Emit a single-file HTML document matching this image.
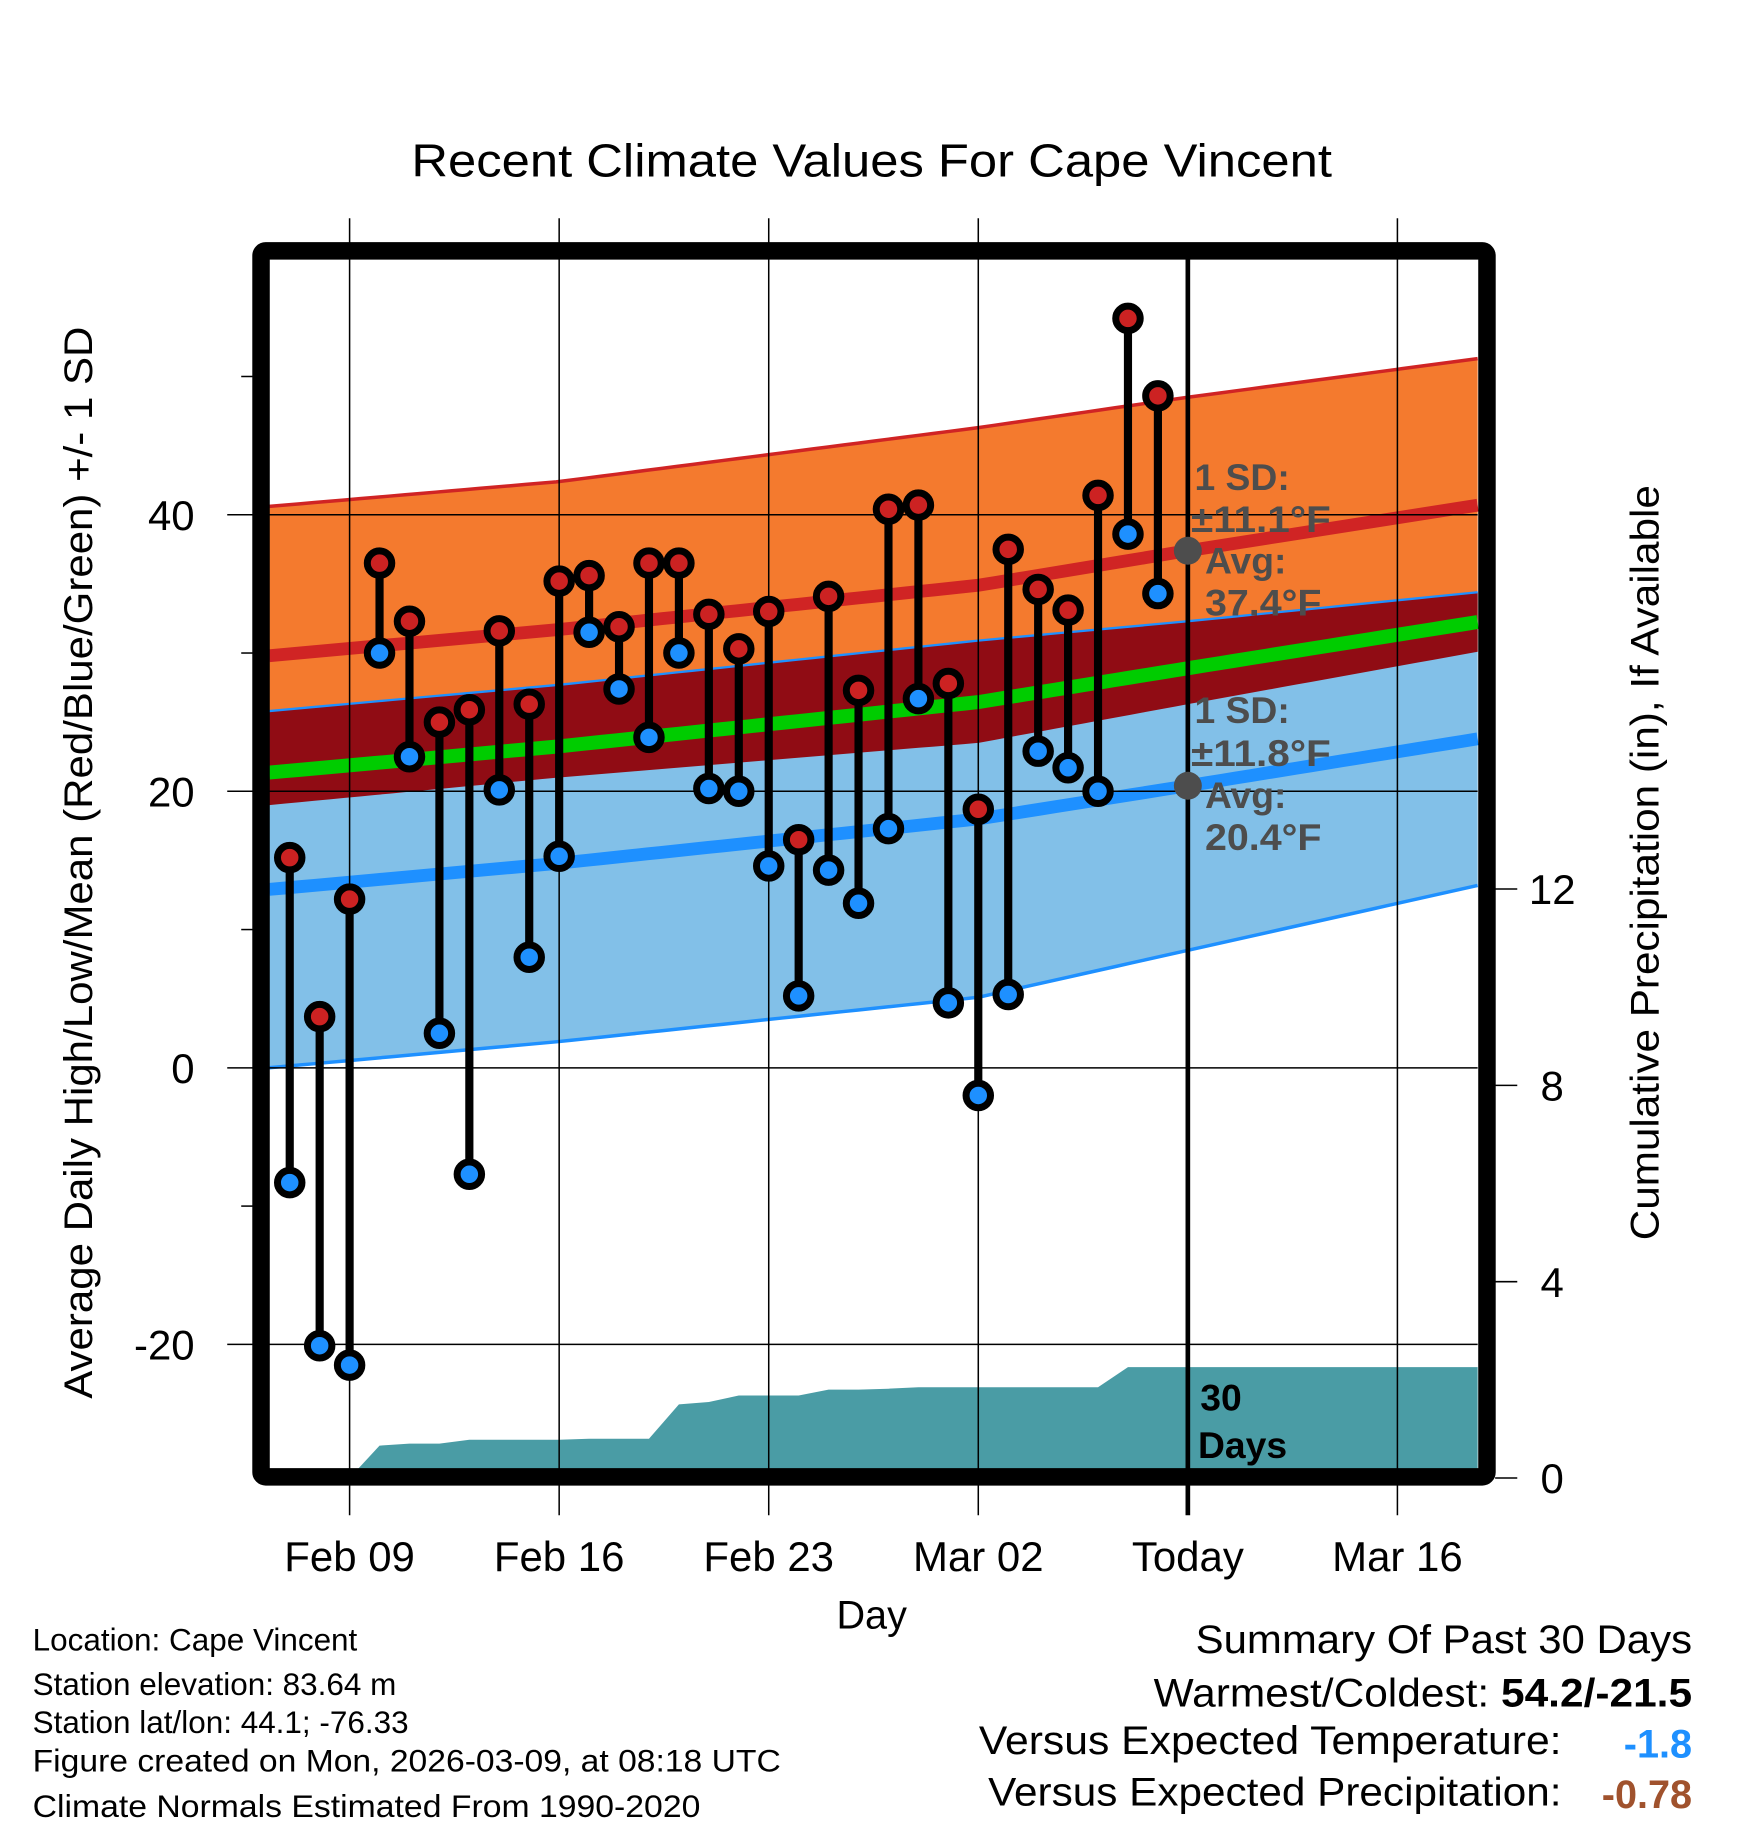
<!DOCTYPE html>
<html><head><meta charset="utf-8"><style>html,body{margin:0;padding:0;background:#fff}svg{display:block}text{font-family:"Liberation Sans",sans-serif}</style></head>
<body>
<svg id="chart" width="1748" height="1828" viewBox="0 0 1500 1568" xmlns="http://www.w3.org/2000/svg">
<g id="fills"></g><g id="grid"></g><g id="marks"></g><g id="frame"></g><g id="labels"></g>
</svg>
<script>
// ---- data ----
const days = [-2,-1,0,1,2,3,4,5,6,7,8,9,10,11,12,13,14,15,16,17,18,19,20,21,22,23,24,25,26,27];
const highs = [15.2,3.7,12.2,36.5,32.3,25,25.9,31.6,26.3,35.2,35.6,31.9,36.5,36.5,32.8,30.3,33,16.5,34.1,27.3,40.4,40.7,27.8,18.7,37.5,34.6,33.1,41.4,54.2,48.6];
const lows = [-8.3,-20.1,-21.5,30,22.5,2.5,-7.7,20.1,8,15.3,31.5,27.4,23.9,30,20.2,20,14.6,5.2,14.3,11.9,17.3,26.7,4.7,-2,5.3,22.9,21.7,20,38.6,34.3];
const precip = [0,0.66,0.7,0.7,0.78,0.78,0.78,0.78,0.8,0.8,0.8,1.5,1.55,1.68,1.68,1.68,1.8,1.8,1.82,1.85,1.85,1.85,1.85,1.85,1.85,1.85,2.26,2.26];
const normDays = [-2.7,7,21,28,37.7];
const normHigh = [29.8,31.7,34.9,37.4,40.7];
const sdHigh = [10.8,10.7,11.4,11.1,10.6];
const normLow = [12.9,14.8,18.0,20.4,23.8];
const sdLow = [12.9,12.9,12.9,11.9,10.6];
const tickDays = [0,7,14,21,28,35];
const tickLabels = ["Feb 09","Feb 16","Feb 23","Mar 02","Today","Mar 16"];
const yTicks = [40,20,0,-20];
const yMinor = [50,30,10,-10];
const pTicks = [0,4,8,12];

// ---- axes ----
const X = d => 300 + d*25.69;
const Y = v => 916 - v*11.865;
const P = p => 1268 - p*42.12;
const L=231,R=1268,T=222,B=1260;
const NS="http://www.w3.org/2000/svg";
function mk(parent,tag,attrs){const e=document.createElementNS(NS,tag);for(const k in attrs)e.setAttribute(k,attrs[k]);document.getElementById(parent).appendChild(e);return e;}
function interp(arr,d){for(let i=0;i<normDays.length-1;i++){if(d<=normDays[i+1]||i===normDays.length-2){const t=(d-normDays[i])/(normDays[i+1]-normDays[i]);return arr[i]+t*(arr[i+1]-arr[i]);}}}
const d0=(L-300)/25.69, d1=(R-300)/25.69;
const samp=[];for(let i=0;i<=80;i++)samp.push(d0+(d1-d0)*i/80);
const f=(fn)=>samp.map(d=>[X(d),Y(fn(d))]);
const hp=d=>interp(normHigh,d)+interp(sdHigh,d), hm=d=>interp(normHigh,d)-interp(sdHigh,d);
const lp=d=>interp(normLow,d)+interp(sdLow,d), lm=d=>interp(normLow,d)-interp(sdLow,d);
const pts=a=>a.map(p=>p.join(',')).join(' ');
let e;
e=mk('fills','polygon',{points:pts(f(hp).concat(f(hm).reverse())),fill:'#f47a2e'});

e=mk('fills','polygon',{points:pts(f(lp).concat(f(lm).reverse())),fill:'#82c0e8'});

e=mk('fills','polygon',{points:pts(f(lp).concat(f(hm).reverse())),fill:'#900c14'});

e=mk('fills','polyline',{points:pts(f(hp)),fill:'none',stroke:'#d02424','stroke-width':3});

e=mk('fills','polyline',{points:pts(f(lp)),fill:'none',stroke:'#1e90ff','stroke-width':2});

e=mk('fills','polyline',{points:pts(f(lm)),fill:'none',stroke:'#1e90ff','stroke-width':3});

e=mk('fills','polyline',{points:pts(f(d=>interp(normHigh,d))),fill:'none',stroke:'#d02424','stroke-width':11});

e=mk('fills','polyline',{points:pts(f(d=>interp(normLow,d))),fill:'none',stroke:'#1e90ff','stroke-width':11});

e=mk('fills','polyline',{points:pts(f(d=>(interp(normHigh,d)+interp(normLow,d))/2)),fill:'none',stroke:'#00cc00','stroke-width':12});

// precip area
let pp=[[X(0.3),P(0)]];
precip.forEach((v,i)=>{pp.push([X(i),P(v)]);});
pp.push([R,P(precip[precip.length-1])]);pp.push([R,B]);pp.push([X(0.3),B]);
e=mk('fills','polygon',{points:pts(pp),fill:'#4a9ca5'});

// grid
tickDays.forEach((d,i)=>{if(i===4)return;
 e=mk('grid','line',{x1:X(d),x2:X(d),y1:187,y2:1300,stroke:'#000','stroke-width':1.3});
 });
yTicks.forEach(v=>{e=mk('grid','line',{x1:195,x2:R,y1:Y(v),y2:Y(v),stroke:'#000','stroke-width':1.3});
 
 e=mk('labels','text',{x:167,y:Y(v)+13,'text-anchor':'end','font-size':36});e.textContent=v;
 });
yMinor.forEach(v=>{e=mk('grid','line',{x1:207,x2:220,y1:Y(v),y2:Y(v),stroke:'#000','stroke-width':1.3});
 });
pTicks.forEach(p=>{e=mk('grid','line',{x1:1283,x2:1302,y1:P(p),y2:P(p),stroke:'#000','stroke-width':1.3});
 
 e=mk('labels','text',{x:1332,y:P(p)+13,'text-anchor':'middle','font-size':36});e.textContent=p;
 });
e=mk('grid','line',{x1:X(28),x2:X(28),y1:T,y2:1300,stroke:'#000','stroke-width':4});

tickDays.forEach((d,i)=>{e=mk('labels','text',{x:X(d),y:1348,'text-anchor':'middle','font-size':36});e.textContent=tickLabels[i];
 });
// marks
days.forEach((d,i)=>{
 e=mk('marks','line',{x1:X(d),x2:X(d),y1:Y(highs[i]),y2:Y(lows[i]),stroke:'#000','stroke-width':7});
 
 e=mk('marks','circle',{cx:X(d),cy:Y(highs[i]),r:10.5,fill:'#cc2222',stroke:'#000','stroke-width':6});
 
 e=mk('marks','circle',{cx:X(d),cy:Y(lows[i]),r:10.5,fill:'#1e90ff',stroke:'#000','stroke-width':6});
 
});
e=mk('marks','circle',{cx:X(28),cy:Y(37.4),r:12,fill:'#4d4d4d'});

e=mk('marks','circle',{cx:X(28),cy:Y(20.4),r:12,fill:'#4d4d4d'});

// frame
e=mk('frame','rect',{x:224,y:215,width:1052,height:1052,fill:'none',stroke:'#000','stroke-width':15,rx:4});

</script>
<svg style="position:absolute;left:0;top:0" width="1748" height="1828" viewBox="0 0 1500 1568" xmlns="http://www.w3.org/2000/svg">
<g font-family="Liberation Sans, sans-serif">
<text x="748" y="151" text-anchor="middle" font-size="40" textLength="790" lengthAdjust="spacingAndGlyphs">Recent Climate Values For Cape Vincent</text>
<text transform="translate(79,740) rotate(-90)" text-anchor="middle" font-size="34" textLength="920" lengthAdjust="spacingAndGlyphs">Average Daily High/Low/Mean (Red/Blue/Green) +/- 1 SD</text>
<text transform="translate(1423,740) rotate(-90)" text-anchor="middle" font-size="34" textLength="648" lengthAdjust="spacingAndGlyphs">Cumulative Precipitation (in), If Available</text>
<text x="748" y="1397" text-anchor="middle" font-size="34">Day</text>
<g fill="#4d4d4d" font-weight="bold" font-size="32">
<text x="1025" y="420">1 SD:</text><text x="1022" y="456" textLength="120" lengthAdjust="spacingAndGlyphs">±11.1°F</text><text x="1034" y="492">Avg:</text><text x="1034" y="528" textLength="100" lengthAdjust="spacingAndGlyphs">37.4°F</text></g>
<g fill="#4d4d4d" font-weight="bold" font-size="32">
<text x="1025" y="620">1 SD:</text><text x="1022" y="657" textLength="120" lengthAdjust="spacingAndGlyphs">±11.8°F</text><text x="1034" y="693">Avg:</text><text x="1034" y="729" textLength="100" lengthAdjust="spacingAndGlyphs">20.4°F</text></g>
<g font-weight="bold" font-size="32"><text x="1030" y="1210">30</text><text x="1028" y="1251">Days</text></g>
<g font-size="27">
<text x="28" y="1416">Location: Cape Vincent</text>
<text x="28" y="1454">Station elevation: 83.64 m</text>
<text x="28" y="1487">Station lat/lon: 44.1; -76.33</text>
<text x="28" y="1520" textLength="642" lengthAdjust="spacingAndGlyphs">Figure created on Mon, 2026-03-09, at 08:18 UTC</text>
<text x="28" y="1559" textLength="573" lengthAdjust="spacingAndGlyphs">Climate Normals Estimated From 1990-2020</text></g>
<g font-size="34">
<text x="1452" y="1418" text-anchor="end" textLength="426" lengthAdjust="spacingAndGlyphs">Summary Of Past 30 Days</text>
<text x="1452" y="1464" text-anchor="end" textLength="462" lengthAdjust="spacingAndGlyphs"><tspan>Warmest/Coldest: </tspan><tspan font-weight="bold">54.2/-21.5</tspan></text>
<text x="1340" y="1505" text-anchor="end" textLength="500" lengthAdjust="spacingAndGlyphs">Versus Expected Temperature:</text>
<text x="1452" y="1508" text-anchor="end" fill="#1e90ff" font-weight="bold">-1.8</text>
<text x="1340" y="1549" text-anchor="end" textLength="492" lengthAdjust="spacingAndGlyphs">Versus Expected Precipitation:</text>
<text x="1452" y="1551" text-anchor="end" fill="#a0522d" font-weight="bold">-0.78</text>
</g></g></svg>
</body></html>
